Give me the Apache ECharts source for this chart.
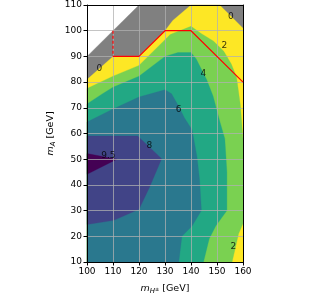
<!DOCTYPE html>
<html>
<head>
<meta charset="utf-8">
<script src="https://cdn.jsdelivr.net/npm/echarts@6/dist/echarts.min.js"></script>
<style>
html,body{margin:0;padding:0;background:#fff;}
#c{width:330px;height:300px;}
</style>
</head>
<body>
<div id="c"></div>
<script>
// ---- data (in data units: [m_H±, m_A]) ----
const xTicks = [100, 110, 120, 130, 140, 150, 160];
const yTicks = [10, 20, 30, 40, 50, 60, 70, 80, 90, 100, 110];
const levels = [0, 2, 4, 6, 8, 9.5];
const levelColors = ['#fde725', '#7ad151', '#22a884', '#2a788e', '#414487', '#440154'];
const belowColor = '#808080';

// region covered by the scan (z < 0 shown in gray)
const scanRegion = [[100,10],[100,90],[120,110],[160,110],[160,10]];
// z >= 0
const regionZ0 = [[100,10],[100,81],[110,90],[120,90],[130,100],[133,104],[140,110],[151,110],[155,106],[160,101],[160,10]];
// z >= 2
const regionZ2 = [[100,10],[100,77.5],[110,82.3],[120,86.5],[130,96.5],[132,98.5],[140,101.7],[143.6,99.1],[148.7,95.9],[152.6,92],[155.5,87],[157.5,82],[159,71],[160,58],[160,25],[158.3,21],[155.8,10]];
// z >= 4
const regionZ4 = [[100,10],[100,71.5],[106,75.5],[110,78],[120,82.3],[130,90],[135,91.5],[140,91.5],[142,89],[146,81],[148.5,74.5],[151,65],[153,58],[153.8,45],[153.8,30],[149.5,24],[147,19],[144.8,10]];
// z >= 6
const regionZ6 = [[100,10],[100,64.5],[110,69.5],[120,74.2],[130,77],[132.5,75.5],[135.3,70.5],[137.5,66],[140.4,61.5],[142.3,51],[143.3,42],[144,30],[140.4,24],[136.5,20],[135.3,10]];
// z >= 8
const regionZ8 = [[100,24.6],[110.3,26.2],[120,30.5],[124,39],[128.7,50.2],[119.5,59],[100,59]];
// z >= 9.5
const regionZ95 = [[100,52.2],[111.5,50],[100,44.1]];

// red limit line
const redDashed = [[110,100],[110,90]];
const redSolid = [[110,90],[120,90],[130,100],[140,100],[160,80]];

// contour labels
const labelText = ['0', '0', '2', '2', '4', '6', '8', '9.5'];
const labelX = [104.8, 155.3, 152.8, 156.3, 144.8, 135.2, 124.0, 108.2];
const labelY = [85.4, 105.3, 94.0, 15.9, 83.1, 69.2, 55.1, 51.3];

// ---- chart ----
const FONT = 'DejaVu Sans';
const chart = echarts.init(document.getElementById('c'), null, {renderer: 'canvas'});

function polySeries(pts, color, z) {
  return {
    type: 'custom',
    coordinateSystem: 'cartesian2d',
    xAxisIndex: 0, yAxisIndex: 0,
    z: z,
    silent: true,
    data: pts,
    renderItem: function (params, api) {
      if (params.dataIndex !== 0) return null;
      return {
        type: 'polygon',
        shape: {points: pts.map(function (p) { return api.coord(p); })},
        style: {fill: color, stroke: color, lineWidth: 0.3}
      };
    }
  };
}

const regions = [regionZ0, regionZ2, regionZ4, regionZ6, regionZ8, regionZ95];
const series = [polySeries(scanRegion, belowColor, 1)];
regions.forEach(function (r, i) { series.push(polySeries(r, levelColors[i], 2 + i)); });

series.push({
  type: 'line', data: redDashed, showSymbol: false, symbol: 'none', z: 20, silent: true,
  lineStyle: {color: '#ff0000', width: 1.2, type: [3, 2]}
});
series.push({
  type: 'line', data: redSolid, showSymbol: false, symbol: 'none', z: 20, silent: true,
  lineStyle: {color: '#ff0000', width: 1.2}
});
series.push({
  type: 'scatter', z: 30, silent: true, symbolSize: 0,
  data: labelText.map(function (t, i) { return {value: [labelX[i], labelY[i]], name: t}; }),
  label: {show: true, position: 'inside', formatter: '{b}', color: '#000', fontSize: 9, fontFamily: FONT}
});

const axisCommon = {
  type: 'value',
  axisLine: {show: true, onZero: false, lineStyle: {color: '#000', width: 1}},
  axisTick: {show: true, length: 3.5, lineStyle: {color: '#000', width: 1}},
  axisLabel: {color: '#000', fontSize: 9, fontFamily: FONT, margin: 5},
  splitLine: {show: true, lineStyle: {color: 'rgba(176,176,176,0.75)', width: 1}},
  z: 10
};
const nameRich = {
  m: {fontStyle: 'italic', fontSize: 9.5, fontFamily: FONT, color: '#000', lineHeight: 12},
  s: {fontStyle: 'italic', fontSize: 7, fontFamily: FONT, color: '#000', lineHeight: 7, verticalAlign: 'bottom'},
  p: {fontSize: 5, fontFamily: FONT, color: '#000', lineHeight: 5, verticalAlign: 'bottom', padding: [0, 0, 3, 0]},
  t: {fontSize: 9.5, fontFamily: FONT, color: '#000', lineHeight: 12}
};

const option = {
  animation: false,
  backgroundColor: '#fff',
  grid: {left: 87, right: 87, top: 5, bottom: 35, containLabel: false},
  xAxis: [
    Object.assign({}, axisCommon, {
      min: xTicks[0], max: xTicks[xTicks.length - 1], interval: 10, position: 'bottom',
      name: '{m|m}{s|H}{p|±}{t| [GeV]}', nameLocation: 'middle', nameGap: 21,
      nameTextStyle: {rich: nameRich}
    }),
    {type: 'value', min: xTicks[0], max: xTicks[xTicks.length - 1], position: 'top', z: 10,
     axisLine: {show: true, onZero: false, lineStyle: {color: '#000', width: 1}},
     axisTick: {show: false}, axisLabel: {show: false}, splitLine: {show: false}}
  ],
  yAxis: [
    Object.assign({}, axisCommon, {
      min: yTicks[0], max: yTicks[yTicks.length - 1], interval: 10, position: 'left',
      name: '{m|m}{s|A}{t| [GeV]}', nameLocation: 'middle', nameGap: 30, nameRotate: 90,
      nameTextStyle: {rich: nameRich}
    }),
    {type: 'value', min: yTicks[0], max: yTicks[yTicks.length - 1], position: 'right', z: 10,
     axisLine: {show: true, onZero: false, lineStyle: {color: '#000', width: 1}},
     axisTick: {show: false}, axisLabel: {show: false}, splitLine: {show: false}}
  ],
  series: series
};
chart.setOption(option);
</script>
</body>
</html>
